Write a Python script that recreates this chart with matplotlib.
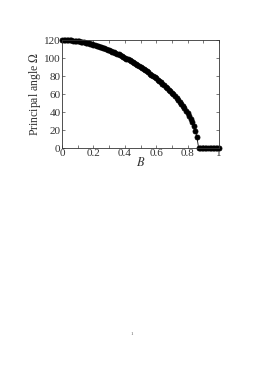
import numpy as np
import matplotlib
matplotlib.use("Agg")
import matplotlib.pyplot as plt

# Field values B (step 0.01) and principal angle
b_values = [round(0.01 * i, 2) for i in range(101)]
omega_values = [
    120.00, 119.99, 119.95, 119.88, 119.79, 119.67, 119.53, 119.35, 119.16, 118.93,
    118.69, 118.41, 118.11, 117.78, 117.44, 117.06, 116.66, 116.24, 115.79, 115.33,
    114.83, 114.32, 113.78, 113.22, 112.63, 112.02, 111.39, 110.74, 110.07, 109.38,
    108.66, 107.93, 107.17, 106.39, 105.59, 104.77, 103.93, 103.07, 102.19, 101.29,
    100.37, 99.43, 98.46, 97.48, 96.48, 95.45, 94.40, 93.34, 92.25, 91.13,
    90.00, 88.84, 87.66, 86.46, 85.23, 83.97, 82.69, 81.39, 80.05, 78.68,
    77.29, 75.87, 74.41, 72.91, 71.38, 69.82, 68.21, 66.56, 64.86, 63.12,
    61.31, 59.46, 57.53, 55.54, 53.47, 51.32, 49.07, 46.70, 44.21, 41.57,
    38.74, 35.69, 32.36, 28.62, 24.33, 19.09, 11.71, 0.0, 0.0, 0.0,
    0.0, 0.0, 0.0, 0.0, 0.0, 0.0, 0.0, 0.0, 0.0, 0.0,
    0.0,
]
x_ticks = [0, 0.2, 0.4, 0.6, 0.8, 1]
x_tick_labels = ["0", "0.2", "0.4", "0.6", "0.8", "1"]
y_ticks = [0, 20, 40, 60, 80, 100, 120]

plt.rcParams["font.family"] = ["Liberation Serif", "DejaVu Serif"]
plt.rcParams["mathtext.fontset"] = "stix"

fig = plt.figure(figsize=(2.62, 3.70), dpi=100)
ax = fig.add_axes([62 / 262, 1 - 148 / 370, (219 - 62) / 262, (148 - 40) / 370])

ax.plot(b_values, omega_values, color="black", linewidth=0.6,
        marker="o", markersize=3.6, markeredgewidth=0.6, markeredgecolor="black",
        clip_on=False)

ax.set_xlim(0, 1)
ax.set_ylim(0, 120)
ax.set_xticks(x_ticks)
ax.set_xticklabels(x_tick_labels)
ax.set_xticks(np.arange(0, 1.01, 0.1), minor=True)
ax.set_yticks(y_ticks)

ax.tick_params(which="both", direction="in", top=True, right=True,
               labelsize=8, pad=1, width=0.5, color="#444444", labelcolor="#333333")
ax.tick_params(which="major", length=2.5)
ax.tick_params(which="minor", length=2.5)
for spine in ax.spines.values():
    spine.set_linewidth(0.6)
    spine.set_color("#333333")

ax.set_xlabel("$B$", fontsize=9, labelpad=-2, color="#333333")
ax.set_ylabel("Principal angle $\\Omega$", fontsize=8.5, labelpad=1, color="#333333")

# page number
fig.text(132 / 262, 1 - 334 / 370, "1", fontsize=3.5, ha="center", va="center", color="#555555")

fig.savefig("out.png", dpi=100)
